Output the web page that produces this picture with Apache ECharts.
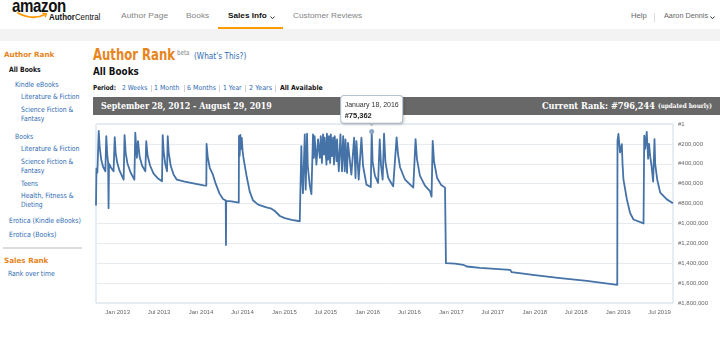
<!DOCTYPE html>
<html><head><meta charset="utf-8">
<script src="https://cdn.jsdelivr.net/npm/echarts@6/dist/echarts.min.js"></script>
<style>
html,body{margin:0;padding:0;background:#fff;}
body{width:720px;height:340px;position:relative;overflow:hidden;}
.t{position:absolute;white-space:nowrap;line-height:1;transform-origin:0 50%;}
.nav{font-family:'Liberation Sans',Arial,sans-serif;font-size:8px;color:#858585;}
.sb{font-family:'DejaVu Sans',sans-serif;font-size:7.3px;color:#2f6bb3;}
.or{color:#e8841c;font-weight:bold;}
.pd{font-family:'DejaVu Sans',sans-serif;font-size:6.8px;color:#2f6bb3;}
.sep{position:absolute;top:85px;width:1px;height:7px;background:#d0d0d0;}
.bar{font-family:'DejaVu Serif',serif;font-weight:bold;color:#fff;}
#chart{position:absolute;left:93px;top:95px;width:627px;height:225px;z-index:2;}
</style></head>
<body>
<!-- header -->
<span class="t" style="left:11.7px;font:bold 19px 'Liberation Sans';line-height:12px;color:#111;letter-spacing:-0.5px" data-cy="6" data-w="54">amazon</span>
<svg style="position:absolute;left:0;top:0" width="60" height="30">
  <path d="M18,13 Q33,21 46,14" stroke="#f90" stroke-width="1.8" fill="none" stroke-linecap="round"/>
  <path d="M42.3,13.1 L46.3,13.8 L45.2,17.3" stroke="#f90" stroke-width="1.3" fill="none"/>
</svg>
<span class="t" style="left:49px;font:9.3px 'Liberation Sans';color:#111" data-cy="16.9" data-w="51"><b>Author</b>Central</span>
<span class="t nav" style="left:120.7px" data-cy="16.2" data-w="46.6">Author Page</span>
<span class="t nav" style="left:185.7px" data-cy="16.2" data-w="23">Books</span>
<span class="t nav" style="left:227.7px;font-weight:bold;color:#111" data-cy="16.2" data-w="39">Sales Info</span>
<svg style="position:absolute;left:270px;top:15.5px" width="6" height="4"><polyline points="0.5,0.5 2.5,2.7 4.5,0.5" stroke="#333" stroke-width="1" fill="none"/></svg>
<div style="position:absolute;left:218px;top:27px;width:65px;height:2.5px;background:#f90"></div>
<span class="t nav" style="left:292.7px" data-cy="16.2" data-w="69">Customer Reviews</span>
<span class="t nav" style="left:630.7px;color:#666" data-cy="16.2" data-w="15.3">Help</span>
<div style="position:absolute;left:654px;top:12.5px;width:1px;height:9px;background:#ddd"></div>
<span class="t nav" style="left:664px;color:#666" data-cy="16.2" data-w="43.7">Aaron Dennis</span>
<svg style="position:absolute;left:710px;top:15.5px" width="6" height="4"><polyline points="0.5,0.5 2.5,2.7 4.5,0.5" stroke="#333" stroke-width="1" fill="none"/></svg>
<div style="position:absolute;left:0;top:29px;width:720px;height:12px;background:#f3f3f3"></div>

<!-- sidebar -->
<span class="t sb or" style="left:4px" data-cy="54" data-w="50">Author Rank</span>
<span class="t sb" style="left:9.3px;font-weight:bold;color:#111" data-cy="69.3" data-w="31.7">All Books</span>
<span class="t sb" style="left:15px" data-cy="84.4" data-w="43.3">Kindle eBooks</span>
<span class="t sb" style="left:20.7px" data-cy="96.7" data-w="58.7">Literature &amp; Fiction</span>
<span class="t sb" style="left:20.7px" data-cy="109.3" data-w="52">Science Fiction &amp;</span>
<span class="t sb" style="left:20.7px" data-cy="118.8" data-w="23.3">Fantasy</span>
<span class="t sb" style="left:15px" data-cy="136.7" data-w="18.3">Books</span>
<span class="t sb" style="left:20.7px" data-cy="148.7" data-w="58.7">Literature &amp; Fiction</span>
<span class="t sb" style="left:20.7px" data-cy="161" data-w="52">Science Fiction &amp;</span>
<span class="t sb" style="left:20.7px" data-cy="170.5" data-w="23.3">Fantasy</span>
<span class="t sb" style="left:20.7px" data-cy="183" data-w="17.3">Teens</span>
<span class="t sb" style="left:20.7px" data-cy="195" data-w="52.7">Health, Fitness &amp;</span>
<span class="t sb" style="left:20.7px" data-cy="204.3" data-w="21.3">Dieting</span>
<span class="t sb" style="left:9.3px" data-cy="220" data-w="72.3">Erotica (Kindle eBooks)</span>
<span class="t sb" style="left:9.3px" data-cy="234.3" data-w="47.3">Erotica (Books)</span>
<div style="position:absolute;left:3px;top:247px;width:79px;height:2px;background:#ddd"></div>
<span class="t sb or" style="left:4px" data-cy="260.8" data-w="44.3">Sales Rank</span>
<span class="t sb" style="left:8px" data-cy="273.3" data-w="47">Rank over time</span>

<!-- main -->
<span class="t" style="left:93.3px;font:bold 15px 'DejaVu Sans';color:#e8841c" data-cy="54.5" data-w="81.7">Author Rank</span>
<span class="t" style="left:177.3px;font:7px 'DejaVu Sans';color:#888" data-cy="52.5" data-w="12.7">beta</span>
<span class="t" style="left:194px;font:8.5px 'DejaVu Sans';color:#2f6bb3" data-cy="56.3" data-w="52">(What's This?)</span>
<span class="t" style="left:93.3px;font:bold 10.5px 'DejaVu Sans';color:#111" data-cy="70.5" data-w="46">All Books</span>

<span class="t pd" style="left:93.3px;font-weight:bold;color:#111" data-cy="88.3" data-w="23.3">Period:</span>
<span class="t pd" style="left:121.7px" data-cy="88.3" data-w="25.6">2 Weeks</span>
<div class="sep" style="left:150.7px"></div>
<span class="t pd" style="left:154.3px" data-cy="88.3" data-w="25.7">1 Month</span>
<div class="sep" style="left:184px"></div>
<span class="t pd" style="left:187.3px" data-cy="88.3" data-w="28.7">6 Months</span>
<div class="sep" style="left:219.3px"></div>
<span class="t pd" style="left:223.3px" data-cy="88.3" data-w="18.7">1 Year</span>
<div class="sep" style="left:245.3px"></div>
<span class="t pd" style="left:249.3px" data-cy="88.3" data-w="22.7">2 Years</span>
<div class="sep" style="left:275.3px"></div>
<span class="t pd" style="left:280px;font-weight:bold;color:#111" data-cy="88.3" data-w="42.3">All Available</span>

<div style="position:absolute;left:93px;top:97px;width:627px;height:18px;background:#686868"></div>
<span class="t bar" style="left:101px;font-size:9.5px" data-cy="106" data-w="170.7">September 28, 2012 - August 29, 2019</span>
<span class="t bar" style="left:541.7px;font-size:9.5px" data-cy="105.7" data-w="113.3">Current Rank: #796,244</span>
<span class="t bar" style="left:658.3px;font-size:6.5px" data-cy="106.5" data-w="54.3">(updated hourly)</span>

<div id="chart"></div>

<script>
// ---- data ----
const startDate = '2012-09-28';
const endDate = '2019-08-29';
const monthNames = ['January','February','March','April','May','June','July','August','September','October','November','December'];
const monthShort = ['Jan','Feb','Mar','Apr','May','Jun','Jul','Aug','Sep','Oct','Nov','Dec'];
const xTickYears = [2013, 2014, 2015, 2016, 2017, 2018, 2019];
const xTickMonths = [0, 6];
const yMax = 1800000;
const yStep = 200000;
const tipDate = '2016-01-18';
const tipRank = 75362;

const dates = [
'2012-09-28','2012-09-30','2012-10-04','2012-10-10','2012-10-14','2012-10-21','2012-10-29','2012-11-08','2012-11-12','2012-11-16',
'2012-11-20','2012-11-22','2012-11-24','2012-12-03','2012-12-14','2012-12-19','2012-12-23','2012-12-30','2013-01-09','2013-01-27',
'2013-01-31','2013-02-05','2013-02-13','2013-02-27','2013-03-15','2013-03-19','2013-03-26','2013-03-31','2013-04-07','2013-04-18',
'2013-05-02','2013-05-06','2013-05-12','2013-05-23','2013-06-07','2013-06-25','2013-07-14','2013-07-17','2013-07-21','2013-07-28',
'2013-08-05','2013-08-08','2013-08-12','2013-08-21','2013-09-03','2013-09-17','2013-10-21','2013-12-04','2014-01-12','2014-01-24',
'2014-01-25','2014-01-30','2014-02-08','2014-02-21','2014-03-06','2014-03-23','2014-04-07','2014-04-19','2014-04-20','2014-04-21',
'2014-05-15','2014-06-15','2014-06-16','2014-06-19','2014-06-22','2014-06-25','2014-06-28','2014-07-02','2014-07-07','2014-07-19',
'2014-08-02','2014-08-17','2014-09-08','2014-10-14','2014-11-05','2014-11-20','2014-12-12','2015-01-02','2015-02-02','2015-03-09',
'2015-03-14','2015-03-16','2015-03-19','2015-03-23','2015-03-31','2015-04-04','2015-04-10','2015-04-13','2015-04-22','2015-04-29',
'2015-05-06','2015-05-10','2015-05-13','2015-05-21','2015-05-28','2015-06-05','2015-06-09','2015-06-14','2015-06-19','2015-06-23',
'2015-06-26','2015-07-04','2015-07-06','2015-07-11','2015-07-15','2015-07-20','2015-07-23','2015-07-28','2015-08-02','2015-08-06',
'2015-08-09','2015-08-17','2015-08-19','2015-08-27','2015-09-03','2015-09-10','2015-09-15','2015-09-22','2015-09-25','2015-10-02',
'2015-10-06','2015-10-21','2015-11-02','2015-11-08','2015-11-12','2015-11-22','2015-12-04','2015-12-11','2015-12-26','2016-01-14',
'2016-01-18','2016-01-22','2016-02-01','2016-02-15','2016-02-22','2016-02-28','2016-03-06','2016-03-12','2016-03-18','2016-03-30',
'2016-04-21','2016-05-06','2016-05-12','2016-05-21','2016-06-11','2016-07-18','2016-07-28','2016-08-03','2016-08-16','2016-09-07',
'2016-09-29','2016-10-06','2016-10-11','2016-10-17','2016-10-30','2016-11-16','2016-12-04','2016-12-08','2017-01-16','2017-02-22',
'2017-03-09','2017-05-06','2017-09-15','2017-09-22','2018-01-01','2018-04-22','2018-08-17','2018-10-14','2018-12-28','2018-12-29',
'2019-01-02','2019-01-09','2019-01-17','2019-01-20','2019-01-24','2019-02-08','2019-02-22','2019-03-09','2019-04-22','2019-04-25',
'2019-04-29','2019-05-06','2019-05-12','2019-05-16','2019-05-21','2019-05-27','2019-06-03','2019-06-09','2019-06-12','2019-06-21',
'2019-07-04','2019-08-02','2019-08-29'
];
const ranks = [
820000,450000,490000,70000,230000,360000,430000,475000,121000,300000,
390000,846000,400000,440000,475000,131000,290000,390000,470000,560000,
111000,290000,400000,490000,560000,88000,340000,172000,330000,420000,
475000,172000,320000,420000,500000,545000,576000,111000,270000,400000,
475000,121000,280000,420000,510000,560000,580000,600000,617000,620000,
199000,330000,440000,505000,600000,700000,755000,770000,1217000,772000,
778000,790000,120000,320000,110000,250000,140000,280000,360000,520000,
680000,770000,811000,839000,852000,875000,925000,947000,965000,978000,
985000,222000,520000,695000,104000,660000,98000,420000,620000,705000,
104000,340000,121000,408000,155000,340000,121000,391000,104000,307000,
138000,408000,98000,357000,121000,391000,104000,324000,138000,408000,
121000,374000,155000,475000,104000,475000,121000,475000,155000,492000,
189000,509000,138000,543000,172000,559000,138000,420000,610000,634000,
75362,380000,520000,593000,155000,420000,559000,98000,380000,540000,
627000,135000,300000,435000,556000,640000,152000,350000,520000,620000,
675000,731000,169000,380000,540000,610000,640000,1400000,1405000,1416000,
1433000,1447000,1466000,1490000,1520000,1550000,1577000,1595000,1618000,169000,
100000,286000,202000,400000,556000,758000,893000,960000,1000000,118000,
250000,80000,350000,200000,320000,420000,580000,152000,400000,560000,
690000,758000,796244
];

// ---- helpers ----
function parseLocal(s){ const p = s.split('-').map(Number); return new Date(p[0], p[1]-1, p[2]).getTime(); }
function commas(v){ return String(v).replace(/\B(?=(\d{3})+(?!\d))/g, ','); }

// fit HTML texts to measured widths
document.querySelectorAll('.t').forEach(function(el){
  const cy = parseFloat(el.dataset.cy), w = parseFloat(el.dataset.w);
  const h = el.offsetHeight, nw = el.offsetWidth;
  el.style.top = (cy - h/2) + 'px';
  if (w && nw) el.style.transform = 'scaleX(' + (w/nw) + ')';
});

const data = dates.map(function(d,i){ return [parseLocal(d), ranks[i]]; });
const xMin = parseLocal(startDate), xMax = parseLocal(endDate);
const xTicks = [];
xTickYears.forEach(function(y){ xTickMonths.forEach(function(m){
  const t = new Date(y, m, 1).getTime();
  if (t >= xMin && t <= xMax) xTicks.push({v: t, label: monthShort[m] + ' ' + y});
}); });
function xLabel(v){
  let best = xTicks[0];
  xTicks.forEach(function(k){ if (Math.abs(k.v - v) < Math.abs(best.v - v)) best = k; });
  return best.label;
}
const tickVals = xTicks.map(function(k){ return k.v; });
const tipT = parseLocal(tipDate);
const tp = tipDate.split('-').map(Number);
const tipText = monthNames[tp[1]-1] + ' ' + tp[2] + ', ' + tp[0];

const chart = echarts.init(document.getElementById('chart'), null, {renderer:'canvas'});
chart.setOption({
  animation: false,
  textStyle: {fontFamily: 'Liberation Sans'},
  grid: {left: 3, right: 47, top: 29, bottom: 17, show: true, borderColor: '#cddbe7', borderWidth: 1},
  xAxis: {
    type: 'value', min: xMin, max: xMax, scale: true,
    axisLine: {show: false}, axisTick: {show: false, customValues: tickVals}, splitLine: {show: false},
    axisLabel: {
      fontSize: 6, color: '#666', margin: 6,
      customValues: tickVals,
      formatter: function(v){ return xLabel(v); }
    }
  },
  yAxis: {
    type: 'value', position: 'right', inverse: true, min: 0, max: yMax, interval: yStep,
    axisLine: {show: false}, axisTick: {show: false},
    splitLine: {lineStyle: {color: '#e6ebf0', width: 1}},
    axisLabel: {fontSize: 6, color: '#666', margin: 5, formatter: function(v){ return v === 0 ? '#1' : '#' + commas(v); }}
  },
  series: [{
    type: 'line', data: data, showSymbol: false, silent: true,
    lineStyle: {color: '#4572a7', width: 1.8, join: 'round'},
    itemStyle: {color: '#4572a7'},
    markPoint: {
      animation: false, silent: true,
      data: [
        {coord: [tipT, tipRank], symbol: 'triangle', symbolRotate: 180, symbolSize: [6, 4], symbolOffset: [0, -8],
         itemStyle: {color: '#fff', borderColor: '#b9c8d6', borderWidth: 1}, label: {show: false}},
        {coord: [tipT, tipRank], symbol: 'circle', symbolSize: 5, itemStyle: {color: '#8aa6c6'},
         label: {
           show: true, position: 'top', distance: 6.3,
           formatter: '{a|' + tipText + '}\n{b|#' + commas(tipRank) + '}',
           backgroundColor: '#fff', borderColor: '#b9c8d6', borderWidth: 1, borderRadius: 3,
           padding: [3.75, 3.5, 2, 3.5],
           shadowBlur: 3, shadowColor: 'rgba(0,0,0,0.15)', shadowOffsetX: 1, shadowOffsetY: 1,
           rich: {
             a: {fontSize: 7, color: '#333', lineHeight: 10.5, align: 'left', fontFamily: 'Liberation Sans'},
             b: {fontSize: 7.5, fontWeight: 'bold', color: '#222', lineHeight: 10.5, align: 'left', fontFamily: 'Liberation Sans'}
           }
         }}
      ]
    }
  }]
});
</script>
</body></html>
